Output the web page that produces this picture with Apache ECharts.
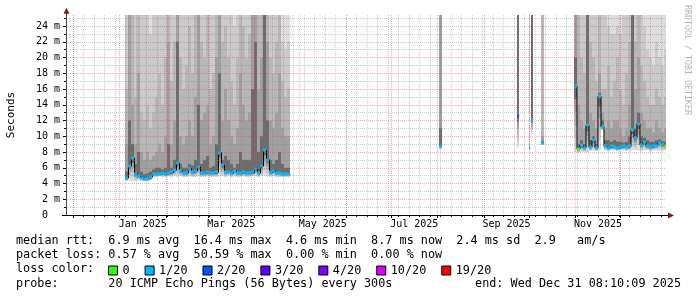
<!DOCTYPE html>
<html><head><meta charset="utf-8">
<script src="https://cdn.jsdelivr.net/npm/echarts@6/dist/echarts.min.js"></script>
<style>html,body{margin:0;padding:0;background:#fff}#c{width:697px;height:297px}</style>
</head><body><div id="c"></div>
<script>
// ---- time boundaries: sample i spans boundaries[i] .. boundaries[i+1] (UTC) ----
const boundaries = [
 '2025-01-05','2025-01-07','2025-01-09','2025-01-11','2025-01-13','2025-01-15','2025-01-17','2025-01-19','2025-01-21','2025-01-23','2025-01-25','2025-01-27','2025-01-29','2025-01-31',
 '2025-02-02','2025-02-04','2025-02-06','2025-02-08','2025-02-10','2025-02-12','2025-02-14','2025-02-16','2025-02-18','2025-02-20','2025-02-22','2025-02-24','2025-02-26','2025-02-28',
 '2025-03-02','2025-03-04','2025-03-06','2025-03-08','2025-03-10','2025-03-12','2025-03-14','2025-03-16','2025-03-18','2025-03-20','2025-03-22','2025-03-24','2025-03-26','2025-03-28','2025-03-30',
 '2025-04-01','2025-04-03','2025-04-05','2025-04-07','2025-04-09','2025-04-11','2025-04-13','2025-04-15','2025-04-17','2025-04-19','2025-04-21','2025-04-23',
 '2025-04-25',
 '2025-08-02','2025-08-04','2025-09-23','2025-09-24T12:00','2025-10-01','2025-10-01T20:00','2025-10-02T12:00','2025-10-03T20:00','2025-10-09','2025-10-10T18:00',
 '2025-10-31',
 '2025-11-02','2025-11-04','2025-11-06','2025-11-08','2025-11-10','2025-11-12','2025-11-14','2025-11-16','2025-11-18','2025-11-20','2025-11-22','2025-11-24','2025-11-26','2025-11-28','2025-11-30',
 '2025-12-02','2025-12-04','2025-12-06','2025-12-08','2025-12-10','2025-12-12','2025-12-14','2025-12-16','2025-12-18','2025-12-20','2025-12-22','2025-12-24','2025-12-26','2025-12-28','2025-12-30',
 '2025-12-31T08:10'
];
// median rtt (ms)
const medianRtt = [
 4.7,6.2,7.2,5.2,4.9,4.7,4.6,4.6,4.8,5.2, 5.2,5.2,5.3,5.2,5.3,5.4,5.7,6.6,5.6,5.3,
 5.3,5.9,5.4,5.6,6.1,5.3,5.3,5.4,5.3,5.3, 5.4,7.9,6.3,5.4,5.5,5.3,5.6,5.3,5.3,5.4,
 5.3,5.3,5.4,5.8,5.3,6.2,8.2,7.0,5.4,5.6, 5.3,5.3,5.2,5.2,5.2,
 null,8.8,null,12.6,null,8.5,null,12.1,null,9.1,null,
 16.4,8.4,8.9,8.5,11.4,8.6,9.5,8.5,15.1,11.2, 8.7,8.5,8.7,8.6,8.5,8.6,8.7,8.6,8.7,10.8,
 9.8,11.6,8.9,9.3,8.7,8.6,8.7,8.8,9.2,9.0, 8.8
];
// lowest ping (bottom of smoke)
const minRtt = [
 4.3,4.4,4.3,4.3,4.4,4.3,4.3,4.3,4.4,4.8, 4.8,4.9,4.8,4.8,4.9,4.8,4.9,4.8,4.9,4.8,
 4.8,4.9,4.8,4.8,4.9,4.8,4.8,4.9,4.8,4.8, 4.8,4.9,4.9,4.8,4.9,4.8,4.9,4.8,4.8,4.9,
 4.8,4.8,4.9,4.9,4.8,4.9,5.0,4.9,4.8,4.9, 4.8,4.8,4.8,4.8,4.8,
 null,8.3,null,8.6,null,8.3,null,10.3,null,8.9,null,
 8.0,7.9,8.0,8.0,8.0,8.1,8.1,8.1,8.2,10.8, 8.2,8.1,8.2,8.2,8.1,8.2,8.2,8.1,8.2,8.2,
 8.2,8.2,8.1,8.2,8.2,8.1,8.2,8.2,8.2,8.1, 8.2
];
// loss level index per sample (0 -> 0, 1 -> 1/20, 2 -> 2/20 ...)
const lossLevel = [
 1,1,1,1,1,1,1,1,1,1, 1,1,1,1,1,1,1,1,1,1, 1,1,1,1,1,1,1,1,1,1, 1,1,1,1,1,1,1,1,1,1, 1,1,1,1,1,1,1,1,1,1, 1,1,1,1,1,
 null,1,null,2,null,1,null,1,null,1,null,
 1,0,1,1,1,1,1,1,1,1, 1,1,1,1,1,1,1,1,1,1, 1,1,1,1,1,1,1,1,1,1, 0
];
// smoke band tops (ms), from the outermost (lightest) band to the innermost (darkest)
const smokeTop1 = [
 26,26,26,26,26,26,26,26,26,26, 26,26,26,26,26,26,26,26,26,26, 26,26,26,26,26,26,26,26,26,26,
 26,26,26,26,26,26,26,26,26,26, 26,26,26,26,26,26,26,26,26,26, 26,26,26,26,26,
 null,26,null,26,null,26,null,26,null,26,null,
 26,26,26,26,26,26,26,26,26,26, 26,26,26,26,26,26,26,26,26,26, 26,26,26,26,26,26,26,26,26,26, 26
];
const smokeTop2 = [
 26,26,26,26,26,26,26,26,23,26, 26,26,26,26,26,26,26,26,26,26, 26,26,26,26,26,26,26,26,26,26,
 26,26,26,26,26,26,24,26,26,26, 26,26,26,26,26,26,26,26,26,26, 26,26,22,21,22,
 null,26,null,26,null,26,null,26,null,26,null,
 26,26,26,26,26,26,26,26,26,26, 26,24,23,23,24,23,26,26,26,26, 26,26,26,24,21,20,19,22,20,19, 21
];
const smokeTop3 = [
 16,26,26,15,26,13,12,14,11,13, 15,18,14,20,26,17,22,26,20,16, 19,24,18,26,26,22,20,26,16,18,
 26,26,22,24,20,17,14,20,26,24, 20,23,26,26,26,26,26,26,20,18, 22,26,17,15,16,
 null,26,null,26,null,9,null,26,null,26,null,
 26,26,20,18,26,22,20,17,26,16, 16,19,15,17,20,16,14,18,22,26, 22,26,19,17,15,14,14,16,15,14, 15
];
const smokeTop4 = [
 9,26,14,9,18,8,7,8,7,7.5, 8,9,8,10,22,9,12,26,10,9, 10,12,10,15,26,12,13,14,9,10,
 20,26,12,16,12,10,9,11,18,14, 12,13,26,26,16,20,26,22,12,11, 13,18,11,10,10,
 null,26,null,26,null,8.8,null,26,null,10,null,
 26,14,12,11,26,13,12,11,18,13, 11,12,11,12,12,11,10,11,14,26, 16,20,13,12,11,11,10.5,12,11,10.5, 11
];
const smokeTop5 = [
 5.5,12,9,6.5,8,5.5,5.2,5.3,5.5,5.8, 6,6,5.8,6,9,6,7,22,6.5,6, 6,6.5,6.3,7,14,6.5,7,7.5,6,6.2,
 9,18,7,7.5,7,6.5,6,6.5,8,7, 7,7,16,22,8,10,26,12,7,6.5, 7,8,6.5,6,6,
 null,11,null,26,null,8.6,null,26,null,9.4,null,
 20,9,9.5,9,26,9.5,10,9,15.5,12, 9.5,9.5,9.3,9.5,9.3,9.3,9.2,9.3,10,26, 11,13,10,9.8,9.5,9.3,9.3,9.5,9.6,9.4, 9.3
];
const smokeColors = ['#dddddd','#cacaca','#b7b7b7','#a0a0a0','#6c6c6c'];
const lossLabels = ['0','1/20','2/20','3/20','4/20','10/20','19/20'];
const lossColors = ['#26ff00','#00b8ff','#0059ff','#5e00ff','#7e00ff','#dd00ff','#ff0000'];
// axes
const axisStart = '2024-11-26T08:10';
const axisEnd = '2025-12-31T08:10';
const monthTicks = ['2024-12-01','2025-01-01','2025-02-01','2025-03-01','2025-04-01','2025-05-01','2025-06-01',
 '2025-07-01','2025-08-01','2025-09-01','2025-10-01','2025-11-01','2025-12-01'];
const labelMonths = ['2025-01','2025-03','2025-05','2025-07','2025-09','2025-11'];
const xTickLabels = ['Jan 2025','Mar 2025','May 2025','Jul 2025','Sep 2025','Nov 2025'];
const firstWeekTick = '2024-12-01';
const yTickValues = [0,2,4,6,8,10,12,14,16,18,20,22,24];
const yTickLabels = ['0  ','2 m','4 m','6 m','8 m','10 m','12 m','14 m','16 m','18 m','20 m','22 m','24 m'];
const yMinorValues = [1,3,5,7,9,11,13,15,17,19,21,23,25];
const yMax = 25.4;

const FONT = 'DejaVu Sans Mono';
const ts = s => Date.parse(s.length === 10 ? s + 'T00:00:00Z' : s + ':00Z');
const xMin = ts(axisStart), xMax = ts(axisEnd);
const DAY = 86400000;
const monthVals = monthTicks.map(ts);
const weekVals = [];
for (let t = ts(firstWeekTick); t <= xMax; t += 7 * DAY) weekVals.push(t);
const labelVals = labelMonths.map(m => {
  const y = +m.slice(0, 4), mo = +m.slice(5, 7) - 1;
  return (Date.UTC(y, mo, 1) + Date.UTC(y, mo + 1, 1)) / 2;
});

const smokeData = [], medLine = [];
const medData = lossLabels.map(() => []);
for (let i = 0; i < medianRtt.length; i++) {
  const t0 = ts(boundaries[i]), t1 = ts(boundaries[i + 1]);
  medLine.push([t0, medianRtt[i] == null ? null : medianRtt[i]]);
  if (medianRtt[i] == null) continue;
  smokeData.push([t0, t1, minRtt[i], medianRtt[i], smokeTop1[i], smokeTop2[i], smokeTop3[i], smokeTop4[i], smokeTop5[i]]);
  medData[lossLevel[i]].push([t0, t1, medianRtt[i]]);
}

// each band runs from a lower-rank ping (between min and median) up to its top
function smokeItem(params, api) {
  const cs = params.coordSys;
  const clip = {x: cs.x, y: cs.y, width: cs.width, height: cs.height};
  const xa = Math.round(api.coord([api.value(0), 0])[0]);
  const xb = Math.round(api.coord([api.value(1), 0])[0]);
  const lo = api.value(2), med = api.value(3);
  const n = smokeColors.length;
  const children = [];
  for (let j = 0; j < n; j++) {
    const bottom = lo + (med - lo) * j / n;
    const yTop = api.coord([api.value(0), api.value(4 + j)])[1];
    const yBot = api.coord([api.value(0), bottom])[1];
    const r = echarts.graphic.clipRectByRect({x: xa, y: yTop, width: xb - xa, height: yBot - yTop}, clip);
    if (r) children.push({type: 'rect', shape: r, style: {fill: smokeColors[j]}});
  }
  return {type: 'group', children};
}
function medItem(params, api) {
  const xa = Math.round(api.coord([api.value(0), 0])[0]);
  const xb = Math.round(api.coord([api.value(1), 0])[0]);
  const y = Math.round(api.coord([api.value(0), api.value(2)])[1]);
  return {type: 'rect', shape: {x: xa, y: y - 1.5, width: Math.max(1, xb - xa), height: 3}, style: {fill: api.visual('color')}};
}

const majorGrid = {show: true, lineStyle: {color: 'rgba(222,70,70,0.42)', width: 1, type: [1, 1]}};
const minorGrid = {show: true, lineStyle: {color: 'rgba(130,130,130,0.4)', width: 1, type: [1, 1]}};

const chart = echarts.init(document.getElementById('c'), null, {renderer: 'canvas'});
const series = [
  {type: 'custom', name: 'smoke', renderItem: smokeItem, data: smokeData, encode: {x: [0, 1], y: [2, 4]}, z: 1, silent: true},
  {type: 'line', name: 'median', data: medLine, step: 'end', showSymbol: false, connectNulls: false,
   lineStyle: {color: '#000', width: 1}, z: 2, silent: true}
];
lossLabels.forEach((lab, j) => {
  series.push({type: 'custom', name: lab, renderItem: medItem, data: medData[j], encode: {x: [0, 1], y: 2},
    itemStyle: {color: lossColors[j]}, z: 3, silent: true});
});

chart.setOption({
  backgroundColor: '#ffffff',
  animation: false,
  grid: {left: 66, right: 31, top: 15, bottom: 82, outerBoundsMode: 'none', containLabel: false},
  xAxis: [
    {type: 'value', min: xMin, max: xMax, position: 'bottom', z: 6,
     axisLine: {show: true, onZero: false, lineStyle: {color: '#000', width: 1}},
     axisTick: {show: true, length: 3, customValues: monthVals, lineStyle: {color: '#000'}},
     axisLabel: {show: true, customValues: labelVals, margin: 4, color: '#000', fontFamily: FONT, fontSize: 10,
       formatter: v => {
         let best = 0;
         labelVals.forEach((lv, k) => { if (Math.abs(lv - v) < Math.abs(labelVals[best] - v)) best = k; });
         return xTickLabels[best];
       }},
     splitLine: majorGrid},
    {type: 'value', min: xMin, max: xMax, position: 'bottom', z: 5,
     axisLine: {show: false, onZero: false},
     axisTick: {show: true, length: 2, customValues: weekVals, lineStyle: {color: '#000'}},
     axisLabel: {show: false},
     splitLine: minorGrid}
  ],
  yAxis: [
    {type: 'value', min: 0, max: yMax, position: 'left', z: 6,
     name: 'Seconds', nameLocation: 'middle', nameGap: 49,
     nameTextStyle: {fontFamily: FONT, fontSize: 11, color: '#000'},
     axisLine: {show: true, onZero: false, lineStyle: {color: '#444', width: 1}},
     axisTick: {show: true, length: 3, customValues: yTickValues, lineStyle: {color: '#000'}},
     axisLabel: {show: true, customValues: yTickValues, margin: 6, color: '#000', fontFamily: FONT, fontSize: 10,
       formatter: v => yTickLabels[yTickValues.indexOf(Math.round(v))]},
     splitLine: majorGrid},
    {type: 'value', min: 0, max: yMax, position: 'left', z: 5,
     axisLine: {show: false, onZero: false},
     axisTick: {show: true, length: 2, customValues: yMinorValues, lineStyle: {color: '#000'}},
     axisLabel: {show: false},
     splitLine: minorGrid}
  ],
  legend: {data: lossLabels, left: 108, top: 264.5, padding: 0, itemWidth: 9, itemHeight: 9, itemGap: 15,
    icon: 'rect', selectedMode: false, itemStyle: {borderColor: '#000', borderWidth: 1},
    textStyle: {fontFamily: FONT, fontSize: 11.8, color: '#000'}},
  graphic: [
    {type: 'line', shape: {x1: 66.5, y1: 15, x2: 66.5, y2: 10}, style: {stroke: '#444', lineWidth: 1}},
    {type: 'polygon', shape: {points: [[63.5, 13.8], [66.5, 7.8], [69.5, 13.8]]}, style: {fill: '#801818'}},
    {type: 'line', shape: {x1: 62, y1: 215.5, x2: 668, y2: 215.5}, style: {stroke: '#000', lineWidth: 1}},
    {type: 'polygon', shape: {points: [[668, 212.5], [674, 215.5], [668, 218.5]]}, style: {fill: '#801818'}},
    {type: 'text', x: 687, y: 5, rotation: -Math.PI / 2,
     style: {text: 'RRDTOOL / TOBI OETIKER', fill: '#b4b4b4', fontFamily: FONT, fontSize: 8.3,
       align: 'left', verticalAlign: 'middle', textAlign: 'left', textVerticalAlign: 'middle'}},
    {type: 'text', x: 16, y: 241, style: {text: 'median rtt:  6.9 ms avg  16.4 ms max  4.6 ms min  8.7 ms now  2.4 ms sd  2.9   am/s',
       fill: '#000', fontFamily: FONT, fontSize: 11.8, align: 'left', verticalAlign: 'middle', textAlign: 'left', textVerticalAlign: 'middle'}},
    {type: 'text', x: 16, y: 255, style: {text: 'packet loss: 0.57 % avg  50.59 % max  0.00 % min  0.00 % now',
       fill: '#000', fontFamily: FONT, fontSize: 11.8, align: 'left', verticalAlign: 'middle', textAlign: 'left', textVerticalAlign: 'middle'}},
    {type: 'text', x: 16, y: 269, style: {text: 'loss color:',
       fill: '#000', fontFamily: FONT, fontSize: 11.8, align: 'left', verticalAlign: 'middle', textAlign: 'left', textVerticalAlign: 'middle'}},
    {type: 'text', x: 16, y: 284, style: {text: 'probe:       20 ICMP Echo Pings (56 Bytes) every 300s',
       fill: '#000', fontFamily: FONT, fontSize: 11.8, align: 'left', verticalAlign: 'middle', textAlign: 'left', textVerticalAlign: 'middle'}},
    {type: 'text', x: 681, y: 284, style: {text: 'end: Wed Dec 31 08:10:09 2025',
       fill: '#000', fontFamily: FONT, fontSize: 11.8, align: 'right', verticalAlign: 'middle', textAlign: 'right', textVerticalAlign: 'middle'}}
  ],
  series: series
});
</script></body></html>
